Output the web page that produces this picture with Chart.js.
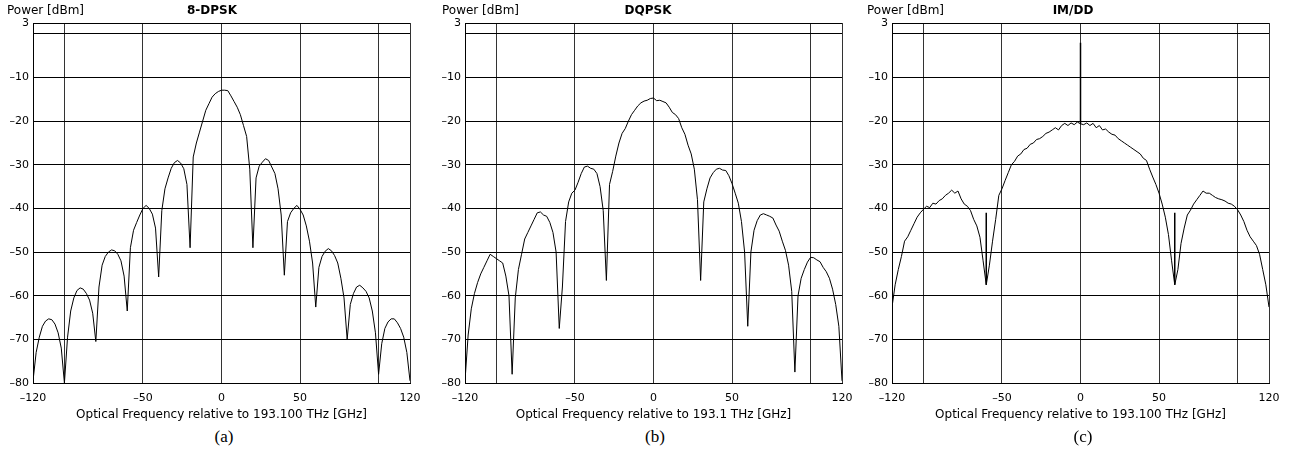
<!DOCTYPE html>
<html lang="en">
<head>
<meta charset="UTF-8">
<title>Optical spectra</title>
<script src="https://cdn.jsdelivr.net/npm/chart.js"></script>
<style>
  body { margin: 0; background: #fff; width: 1297px; height: 454px; position: relative; overflow: hidden; font-family: "DejaVu Sans", sans-serif; color: #000; }
  .panel { position: absolute; top: 0; width: 430px; height: 425px; }
  .ylab { position: absolute; top: 3px; font-size: 12px; line-height: 14px; white-space: nowrap; }
  .ttl { position: absolute; top: 3px; font-size: 12px; font-weight: bold; line-height: 14px; transform: translateX(-50%); white-space: nowrap; }
  .cap { position: absolute; top: 427px; font-family: "Liberation Serif", serif; font-size: 17px; line-height: 20px; transform: translateX(-50%); }
</style>
</head>
<body>

<div class="panel" style="left:0px"><canvas id="chartA"></canvas></div>
<div class="panel" style="left:432px"><canvas id="chartB"></canvas></div>
<div class="panel" style="left:859px"><canvas id="chartC"></canvas></div>

<div class="ylab" style="left:7px">Power [dBm]</div>
<div class="ylab" style="left:442px">Power [dBm]</div>
<div class="ylab" style="left:867px">Power [dBm]</div>

<div class="ttl" style="left:212px">8-DPSK</div>
<div class="ttl" style="left:648px">DQPSK</div>
<div class="ttl" style="left:1073px">IM/DD</div>

<div class="cap" style="left:224px">(a)</div>
<div class="cap" style="left:655px">(b)</div>
<div class="cap" style="left:1083px">(c)</div>

<script>
// sample grid, GHz (step 2)
const freqGHz = Array.from({ length: 121 }, (_, i) => -120 + 2 * i);

// 8-DPSK spectrum, dBm
const dpsk8Power = [
  -79.5, -73, -69.5, -67, -65.8, -65.3, -65.5, -66.5, -68.5, -72,
  -80, -69.5, -63.5, -60.5, -58.8, -58.2, -58.5, -59.5, -61, -64,
  -70.5, -58, -53, -51, -50, -49.5, -49.7, -50.5, -52, -55.5,
  -63.5, -49, -45, -43.2, -41.5, -40, -39.3, -40, -41.3, -44.5,
  -55.7, -40.5, -35.5, -33, -30.8, -29.5, -29, -29.6, -30.9, -34.5,
  -49, -28.2, -25, -22.5, -20, -17.5, -16, -14.5, -13.7, -13.2,
  -12.9, -12.9, -13, -14.2, -15.5, -16.8, -18.5, -21, -23.5, -31,
  -49, -33, -30.3, -29.4, -28.6, -29, -30.5, -32, -35.5, -41.5,
  -55.3, -43, -41, -40, -39.3, -40.2, -41.5, -44, -47.5, -52.5,
  -62.6, -53.5, -51, -49.8, -49.2, -49.7, -50.8, -52.5, -56, -60.5,
  -70, -62, -59.5, -58, -57.6, -58.2, -59, -60.5, -63.5, -68.5,
  -78, -71, -67.5, -66, -65.3, -65.3, -66.2, -67.5, -69.5, -73,
  -79.5
];

// DQPSK spectrum, dBm
const dqpskPower = [
  -79.5, -69, -63, -59.5, -57, -55, -53.5, -52, -50.5, -51,
  -51.5, -52, -52.5, -55.5, -60, -78, -60.5, -54, -50.5, -47,
  -45.5, -44, -42.5, -41, -40.8, -41.5, -41.8, -43.2, -45.5, -50,
  -67.5, -58, -43, -38.5, -36.5, -35.8, -34, -32, -30.5, -30.3,
  -30.8, -31, -32, -35, -40.5, -56.5, -34.5, -31.5, -28, -25,
  -22.8, -21.7, -20, -18.5, -17.5, -16.5, -15.8, -15.4, -15.2, -14.8,
  -14.7, -15.3, -15.2, -15.5, -15.8, -16.8, -18, -18.5, -19.4, -21.5,
  -23, -25.5, -27.5, -31, -38, -56.5, -38.5, -35.5, -33, -31.8,
  -31, -30.8, -31.2, -31.3, -32.5, -34.3, -36.5, -38.8, -43, -50,
  -67, -50, -45, -42.8, -41.5, -41.2, -41.5, -41.8, -42.2, -43.8,
  -45.2, -47.5, -49.6, -53, -59, -77.5, -60, -56, -54, -52.3,
  -51.2, -51.3, -51.8, -52.2, -53.5, -54.5, -56, -58.5, -62, -67,
  -79.5
];

// IM/DD spectrum, dBm
const imddPower = [
  -62.6, -57.5, -54, -51, -47.5, -46.5, -45, -43.5, -42, -41,
  -40.2, -39.5, -39.8, -38.8, -39, -38.2, -37.8, -37, -36.5, -35.8,
  -36.5, -36, -37.8, -39, -39.5, -40.5, -42.5, -44, -46.6, -52,
  -57.5, -53, -47.5, -42.5, -37, -35.5, -33.6, -31.8, -30, -29.2,
  -28, -27.5, -26.5, -26.2, -25.3, -25, -24.2, -24, -23.5, -22.8,
  -22.5, -22, -21.5, -22, -21, -20.5, -21, -20.4, -20.8, -20.2,
  -20.6, -20.8, -20.4, -21, -20.5, -21.5, -21, -22, -21.8, -22.5,
  -23, -23.2, -24, -24.5, -25, -25.5, -26, -26.5, -27, -27.5,
  -28.5, -29, -31, -32.8, -34.5, -36.5, -39, -42, -46, -52,
  -57.5, -54, -48, -44.5, -41.5, -40.4, -39, -38, -37, -36,
  -36.5, -36.5, -37, -37.5, -37.8, -38, -38.3, -38.8, -39, -39.5,
  -40.3, -41.5, -43, -45, -46.5, -47.5, -48.5, -50.5, -54, -57.5,
  -62.6
];

// narrow spectral lines in the IM/DD trace
const imddSpikeFreq = [-60, 0, 60];
const imddSpikeTop = [-41, -2, -41];

const xTickValues = [-120, -100, -50, 0, 50, 100, 120];
const xLabelValues = [-120, -50, 0, 50, 120];
const yTickValues = [-80, -70, -60, -50, -40, -30, -20, -10, 0, 2.5];
const yMin = -80, yMax = 2.5;

const xTitles = [
  'Optical Frequency relative to 193.100 THz [GHz]',
  'Optical Frequency relative to 193.1 THz [GHz]',
  'Optical Frequency relative to 193.100 THz [GHz]'
];

const tickFont = { family: 'DejaVu Sans', size: 11 };

function fmt(v) {
  const r = Math.round(v);
  return r < 0 ? '\u2013' + Math.abs(r) : String(r);
}

function trace(power) {
  return freqGHz.map((f, i) => ({ x: f, y: power[i] }));
}

function makeChart(id, power, xTitle, spikes) {
  const datasets = [{
    data: trace(power),
    borderColor: '#000',
    borderWidth: 1,
    pointRadius: 0,
    tension: 0
  }];
  if (spikes) {
    const pts = [];
    spikes.freq.forEach((f, i) => {
      pts.push({ x: f, y: power[freqGHz.indexOf(f)] });
      pts.push({ x: f, y: spikes.top[i] });
      pts.push({ x: f, y: null });
    });
    datasets.push({
      data: pts,
      borderColor: '#000',
      borderWidth: 1.5,
      pointRadius: 0,
      spanGaps: false
    });
  }

  new Chart(document.getElementById(id), {
    type: 'line',
    data: { datasets: datasets },
    options: {
      responsive: true,
      maintainAspectRatio: false,
      animation: false,
      layout: { padding: { top: 23, right: 20, bottom: 0, left: 0 } },
      plugins: { legend: { display: false }, tooltip: { enabled: false } },
      scales: {
        x: {
          type: 'linear',
          min: -120,
          max: 120,
          afterBuildTicks: s => { s.ticks = xTickValues.map(v => ({ value: v })); },
          afterFit: s => { s.height = 42; },
          grid: { color: '#333', drawTicks: false },
          border: { color: '#000' },
          ticks: {
            autoSkip: false,
            maxRotation: 0,
            padding: 9,
            color: '#000',
            font: tickFont,
            callback: v => xLabelValues.includes(v) ? fmt(v) : ''
          },
          title: {
            display: true,
            text: xTitle,
            color: '#000',
            font: { family: 'DejaVu Sans', size: 12 },
            padding: { top: 0, bottom: 3 }
          }
        },
        y: {
          min: yMin,
          max: yMax,
          afterBuildTicks: s => { s.ticks = yTickValues.map(v => ({ value: v })); },
          afterFit: s => { s.width = 33; },
          grid: { color: '#000', drawTicks: false },
          border: { color: '#000' },
          ticks: {
            autoSkip: false,
            padding: 4,
            color: '#000',
            font: tickFont,
            callback: v => v === 0 ? '' : fmt(v)
          }
        }
      }
    }
  });
}

makeChart('chartA', dpsk8Power, xTitles[0]);
makeChart('chartB', dqpskPower, xTitles[1]);
makeChart('chartC', imddPower, xTitles[2], { freq: imddSpikeFreq, top: imddSpikeTop });
</script>
</body>
</html>
